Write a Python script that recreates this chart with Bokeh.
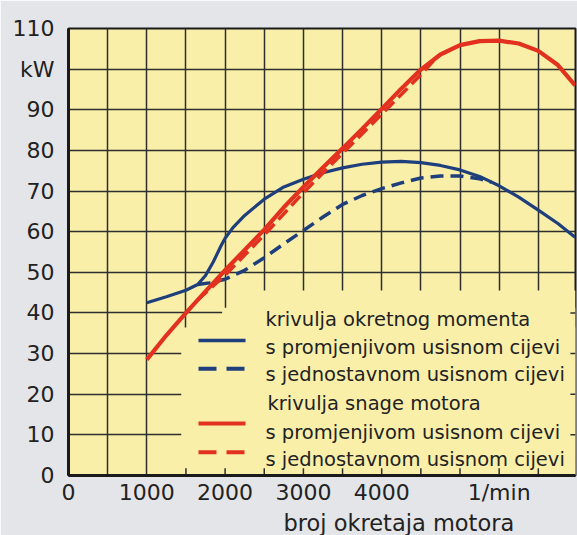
from bokeh.plotting import figure
from bokeh.models import FixedTicker, Title
from bokeh.core.properties import value
from bokeh.embed import file_html
from bokeh.resources import INLINE

# ---- data ----
torque_var_rpm = [1000, 1250, 1500, 1650, 1750, 1850, 1950, 2000, 2100, 2250, 2500, 2750, 3000, 3250, 3500,
                  3750, 4000, 4250, 4500, 4750, 5000, 5250, 5500, 5750, 6000, 6250, 6470]
torque_var_kw = [42.5, 44.0, 45.6, 47.0, 49.2, 52.6, 56.6, 58.4, 61.0, 64.0, 68.0, 71.0, 72.9, 74.5, 75.7,
                 76.6, 77.1, 77.3, 77.0, 76.3, 75.2, 73.6, 71.3, 68.5, 65.3, 62.0, 58.6]

torque_simple_rpm = [1650, 1800, 2000, 2250, 2500, 2750, 3000, 3250, 3500, 3750, 4000, 4250, 4500, 4750, 5000,
                     5250, 5400]
torque_simple_kw = [47.0, 47.4, 48.3, 50.5, 53.6, 57.0, 60.3, 63.6, 66.7, 68.9, 70.6, 72.0, 73.2, 73.7, 73.7,
                    73.0, 72.2]

power_var_rpm = [1000, 1250, 1500, 1750, 2000, 2250, 2500, 2750, 3000, 3250, 3500, 3750, 4000, 4250, 4500,
                 4750, 5000, 5250, 5500, 5750, 6000, 6250, 6470]
power_var_kw = [28.5, 34.5, 40.0, 45.3, 50.5, 55.5, 60.5, 66.0, 71.0, 75.8, 80.5, 85.3, 90.2, 95.2, 99.9,
                103.6, 105.9, 106.9, 107.0, 106.3, 104.5, 101.0, 96.0]

power_simple_rpm = [1650, 2000, 2500, 3000, 3500, 4000, 4500, 4700]
power_simple_kw = [43.2, 49.3, 59.2, 69.6, 79.3, 88.9, 98.6, 102.9]

x_ticks = [0, 1000, 2000, 3000, 4000, 5500]
x_tick_labels = {5500: "1/min"}
y_ticks = [0, 10, 20, 30, 40, 50, 60, 70, 80, 90, 100, 110]
y_tick_labels = {100: "kW"}
x_title = "broj okretaja motora"

legend_heads = ["krivulja okretnog momenta", "krivulja snage motora"]
legend_items = ["s promjenjivom usisnom cijevi", "s jednostavnom usisnom cijevi"]

# ---- styling ----
BLUE = "#1e3f7c"
RED = "#e2321f"
YELLOW = "#f9efa9"
GREY = "#e4e5e9"
GRIDC = "#2e2e2e"
FONT = "DejaVu Sans"
XMAX = 6475
FRAME_L, FRAME_W = 68, 507


def px2x(px):
    return (px - FRAME_L) / FRAME_W * XMAX


p = figure(width=577, height=535, output_backend="svg", toolbar_location=None,
           x_range=(0, XMAX), y_range=(0, 110),
           min_border_left=68, min_border_right=2, min_border_top=28, min_border_bottom=60)
p.background_fill_color = YELLOW
p.border_fill_color = GREY
p.outline_line_color = "#1a1a1a"
p.outline_line_width = 2

p.xaxis.ticker = FixedTicker(ticks=x_ticks)
p.xaxis.major_label_overrides = x_tick_labels
p.yaxis.ticker = FixedTicker(ticks=y_ticks)
p.yaxis.major_label_overrides = y_tick_labels
for ax in (p.xaxis, p.yaxis):
    ax.axis_line_width = 3
    ax.axis_line_color = "#1a1a1a"
    ax.major_tick_line_color = None
    ax.minor_tick_line_color = None
    ax.major_tick_out = 0
    ax.major_tick_in = 0
    ax.minor_tick_out = 0
    ax.major_label_text_font = FONT
    ax.major_label_text_font_size = "22px"
    ax.major_label_text_color = "#222222"
    ax.major_label_text_line_height = 1.0
p.xaxis.major_label_standoff = 4
p.yaxis.major_label_standoff = 14

p.xgrid.ticker = FixedTicker(ticks=list(range(500, 6500, 500)))
p.ygrid.ticker = FixedTicker(ticks=list(range(10, 110, 10)))
for g in (p.xgrid, p.ygrid):
    g.grid_line_color = GRIDC
    g.grid_line_width = 1.5

# legend panel covering the grid (stepped left edge)
p.quad(left=[1440, 1962, 2250], right=[XMAX] * 3, bottom=[0] * 3, top=[36.4, 41.3, 45.5],
       fill_color=YELLOW, line_color=None)
# grid stubs along the panel edges
bx = list(range(1500, 6500, 500))
p.segment(x0=bx, y0=[0] * len(bx), x1=bx, y1=[1.8] * len(bx), line_color=GRIDC, line_width=1.5)
ry = [10, 20, 30, 40]
p.segment(x0=[XMAX - 65] * len(ry), y0=ry, x1=[XMAX] * len(ry), y1=ry, line_color=GRIDC, line_width=1.5)

# curves
p.line(torque_simple_rpm, torque_simple_kw, line_color=BLUE, line_width=3.5, line_dash="13 7")
p.line(torque_var_rpm, torque_var_kw, line_color=BLUE, line_width=3.2)
p.line(power_simple_rpm, power_simple_kw, line_color=RED, line_width=3.5, line_dash="13 6")
p.line(power_var_rpm, power_var_kw, line_color=RED, line_width=4.2)

# legend
lx0, lx1, tx = px2x(198), px2x(245), px2x(265)
p.segment(x0=[lx0, lx0], y0=[33.2, 12.8], x1=[lx1, lx1], y1=[33.2, 12.8],
          line_color=[BLUE, RED], line_width=[3.5, 4])
p.segment(x0=[lx0, lx0], y0=[26.3, 5.7], x1=[lx1, lx1], y1=[26.3, 5.7],
          line_color=[BLUE, RED], line_width=[4, 4], line_dash="18 10")
texts = [legend_heads[0], legend_items[0], legend_items[1], legend_heads[1], legend_items[0], legend_items[1]]
p.text(x=[tx, tx, tx, px2x(267), tx, tx], y=[38.3, 31.6, 24.9, 17.6, 10.6, 4.0], text=texts,
       text_font=value(FONT), text_font_size="19.5px", text_color="#222222",
       text_align="left", text_baseline="alphabetic")

p.add_layout(Title(text=x_title, align="left", offset=215, standoff=0, text_font=FONT,
                   text_font_size="22.5px", text_font_style="normal", text_color="#222222",
                   text_line_height=1.0, background_fill_color=None), "below")

open("out.html", "w").write(file_html(p, INLINE))
